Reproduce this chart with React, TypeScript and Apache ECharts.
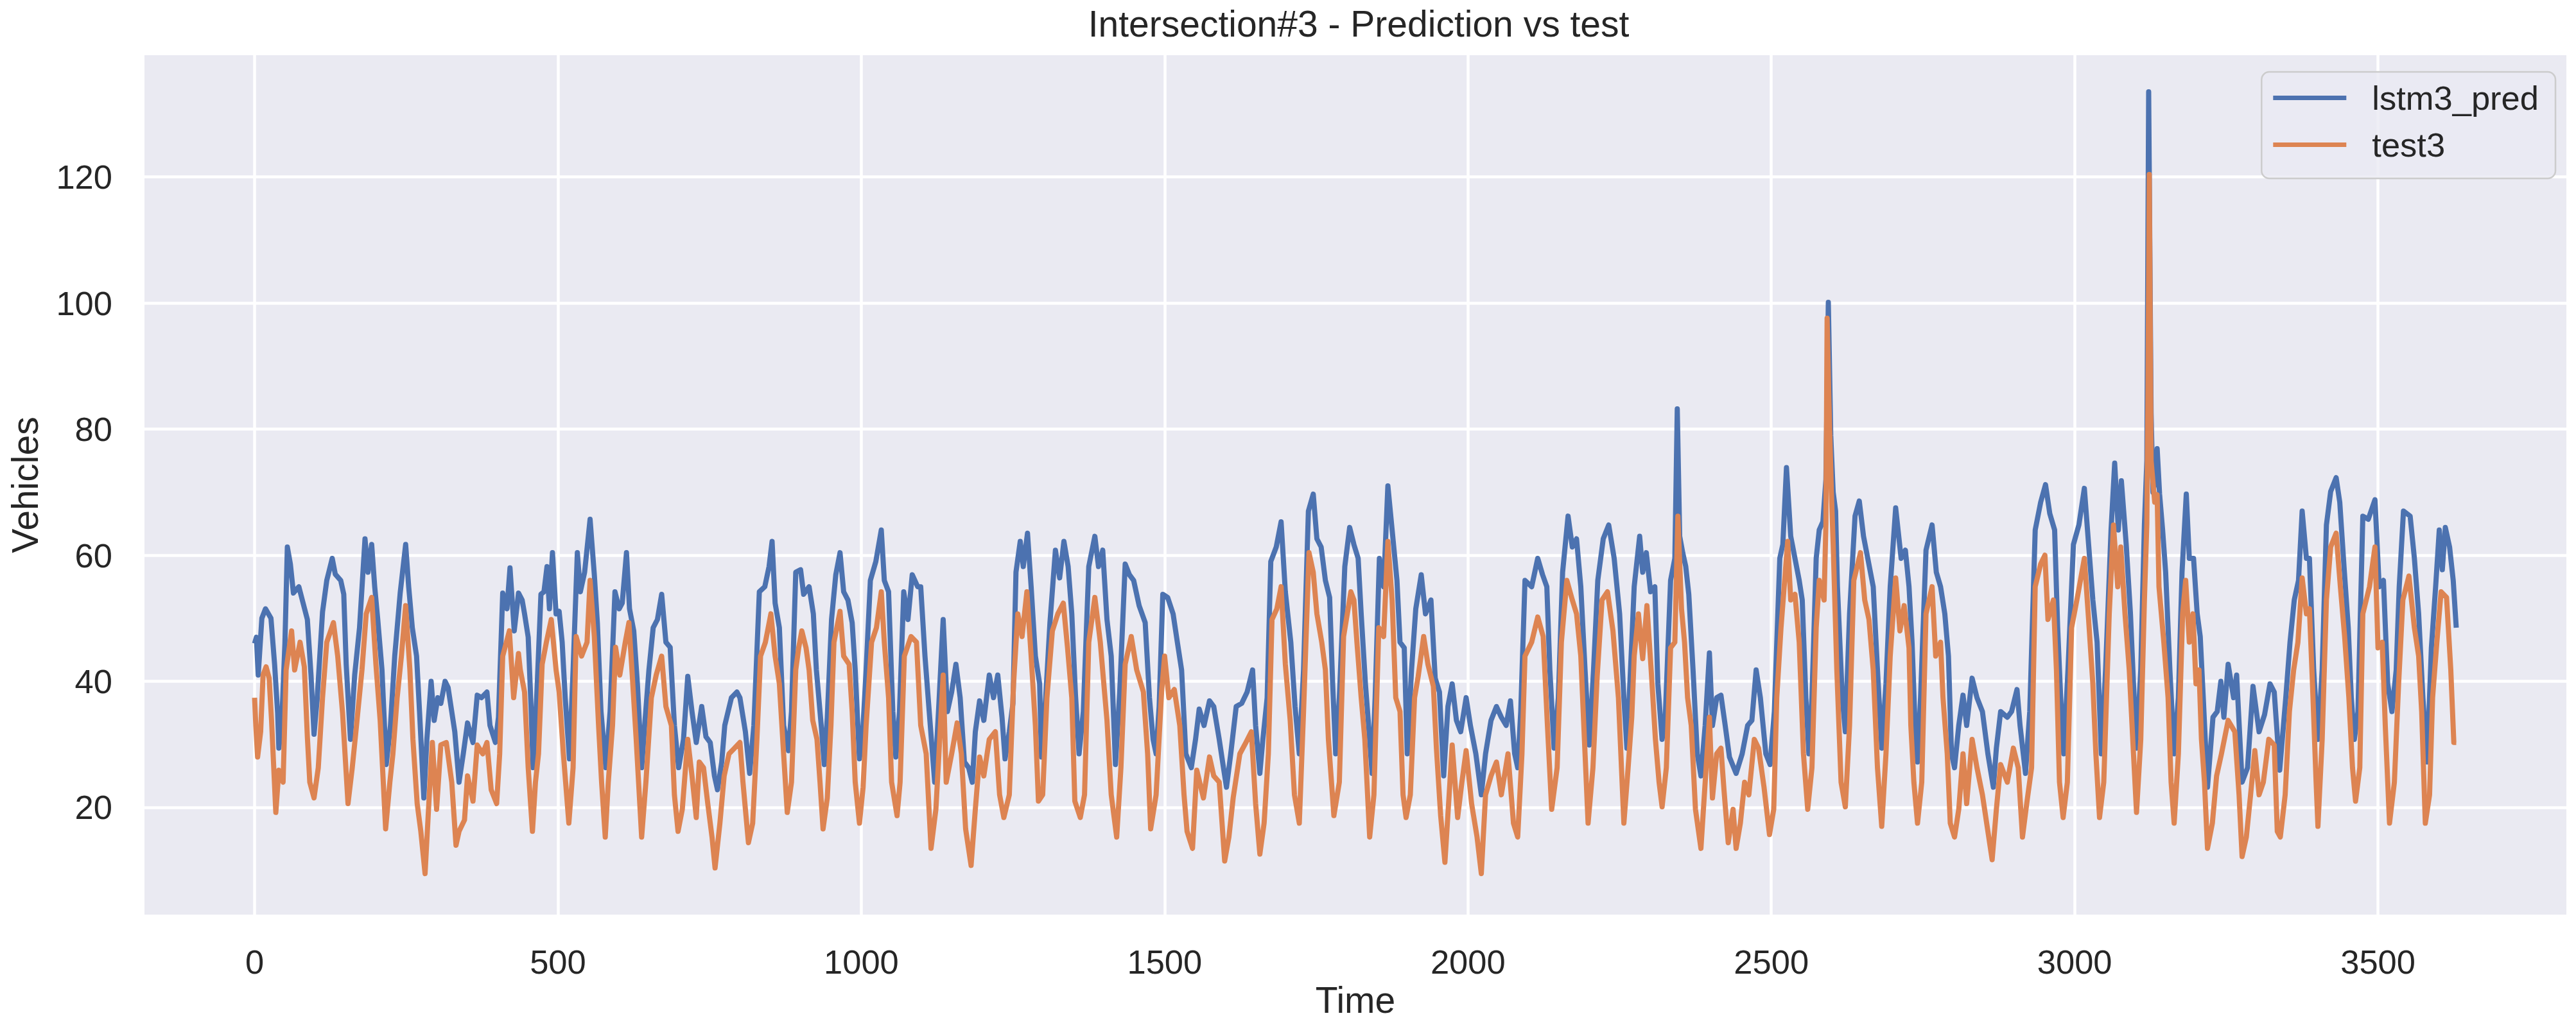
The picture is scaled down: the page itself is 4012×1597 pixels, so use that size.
import React, { useEffect, useRef } from "react";
import * as echarts from "echarts";

const TITLE = "Intersection#3 - Prediction vs test";
const X_NAME = "Time";
const Y_NAME = "Vehicles";
const SERIES_NAMES = ["lstm3_pred", "test3"];
const SERIES_COLORS = ["#4C72B0", "#DD8452"];

// x / y extents (matplotlib 5% margins around the data)
const X_RANGE = [-181.5, 3810.5];
const Y_RANGE = [3.0, 139.3];
const X_STEP = 500;
const Y_STEP = 20;

// lstm3_pred : [time, vehicles]
const lstm3Pred: [number, number][] = [
  [0,46],[3,47],[6,41],[12,50],[18,51.5],[27,50],[33,42.7],[38,35],[40,29.4],[45,34],[50,46],[54,61.3],[59,58.6],[64,54],[73,55],[80,52.4],[87,49.8],[93,41],[98,31.6],[103,37],[112,51],[119,56],[128,59.5],[133,57],[142,56],[147,53.8],[151,42.7],[158,30.8],[165,41],[173,48.5],[182,62.6],[187,57.3],[193,61.7],[198,55],[203,49.8],[210,41.8],[217,26.8],[224,33],[231,44],[240,54],[249,61.7],[254,55],[260,48.5],[267,44],[272,35],[279,21.5],[284,30.8],[291,40],[296,33.8],[302,37.4],[307,36.5],[314,40],[319,39],[330,32],[337,24],[344,28.5],[351,33.4],[360,30.3],[367,37.8],[374,37.4],[383,38.3],[388,33],[397,30.3],[402,34.3],[409,54],[416,51.5],[421,58],[428,48],[435,54],
  [441,52.9],[445,50.7],[451,47],[456,35.2],[459,26.3],[465,37.4],[472,53.8],[477,54.2],[482,58.2],[486,51.5],[491,60.4],[497,50.7],[502,51.1],[507,46.2],[512,37.4],[519,27.7],[525,41.8],[532,60.4],[537,54.2],[544,57.3],[553,65.7],[560,56.9],[565,49.3],[571,35.2],[579,26.3],[586,35.2],[594,54.2],[601,51.5],[606,52.4],[613,60.4],[618,51.5],[625,48],[631,39.6],[638,26.3],[643,33],[650,41.8],[657,48.5],[664,49.8],[671,53.8],[678,46.2],[685,45.4],[692,33],[699,26.3],[707,30.8],[714,40.8],[721,35.2],[728,30.3],[737,36],[744,31.2],[751,30.3],[758,25],[763,22.8],[770,27.2],[775,33],[786,37.4],[795,38.3],[800,37.4],[809,32],[816,25.4],[823,33],[832,54.2],[841,55],[848,58.2],[853,62.2],[858,52.4],[865,48.5],[872,33],[880,29],[885,35.2],[892,57.3],
  [900,57.7],[905,53.8],[914,55],[921,50.7],[926,41.8],[934,33],[939,26.8],[944,34.3],[951,49.8],[958,56.9],[965,60.4],[971,54.2],[978,52.9],[985,49.3],[990,41.8],[997,27.7],[1003,33],[1008,41.8],[1015,56],[1024,59],[1033,64],[1038,56],[1045,54.2],[1052,35.2],[1057,28],[1063,35.2],[1070,54.2],[1077,49.8],[1084,56.9],[1093,55],[1098,55],[1105,44],[1112,35.2],[1121,24],[1128,36.5],[1135,49.8],[1142,35.2],[1149,38.3],[1156,42.7],[1163,37.4],[1170,27.2],[1177,26.3],[1183,24],[1188,32],[1195,36.9],[1202,33.8],[1211,41],[1218,37.4],[1225,41],[1232,34.3],[1237,27.7],[1244,32],[1250,36.5],[1255,57.3],[1262,62.2],[1267,58.2],[1274,63.5],[1280,55],[1287,44],[1294,39.6],[1297,28],[1304,37.4],[1311,49.3],[1320,60.8],[1327,56.4],[1334,62.2],[1341,58.2],[1347,50.7],
  [1353,38],[1359,28.5],[1366,35.2],[1375,58.2],[1385,63],[1391,58.2],[1398,60.8],[1405,49.8],[1412,44],[1419,26.8],[1426,38.3],[1435,58.6],[1442,56.9],[1449,56],[1458,52],[1468,49.3],[1475,37.4],[1481,30.8],[1486,28.5],[1491,36],[1497,53.8],[1505,53.3],[1514,50.7],[1521,46.2],[1528,41.8],[1535,28.5],[1544,26.3],[1551,30.8],[1557,35.6],[1565,33],[1574,36.9],[1581,36],[1590,30.8],[1597,26.3],[1602,23.2],[1609,28.5],[1618,36],[1627,36.5],[1636,38.3],[1645,41.8],[1650,33],[1657,25.4],[1662,30.8],[1669,37.4],[1675,59],[1684,61.3],[1692,65.3],[1699,54.2],[1708,46.2],[1715,36],[1722,28.5],[1729,41.8],[1737,67],[1745,69.7],[1751,62.6],[1758,61.3],[1765,56],[1772,53.3],[1777,39.6],[1782,28.5],[1788,37.4],[1797,58.2],[1805,64.4],
  [1812,61.7],[1819,59.5],[1824,50.7],[1831,39.6],[1838,30.8],[1842,25.4],[1847,37.4],[1854,59.5],[1861,55],[1868,71],[1875,64],[1883,56],[1888,46.2],[1895,45.3],[1900,28.5],[1907,41.8],[1914,51.5],[1923,56.9],[1930,50.7],[1939,52.9],[1946,40.5],[1953,38.3],[1960,25],[1967,36],[1974,39.6],[1981,33.8],[1988,32],[1997,37.4],[2004,33],[2013,28.5],[2022,22],[2029,28.5],[2038,33.8],[2047,36],[2055,34.3],[2063,33],[2070,36.9],[2077,28.5],[2082,26.3],[2087,35.2],[2094,56],[2105,55],[2115,59.5],[2123,56.9],[2130,55],[2135,41.8],[2142,29.4],[2149,37.4],[2156,57.3],[2165,66.2],[2172,61.3],[2179,62.6],[2186,55],[2193,41.8],[2200,29.9],[2207,41.8],[2214,56],[2223,62.6],[2232,64.8],[2241,59.5],[2250,50.7],[2257,37.4],[2262,29.4],[2270,46.2],
  [2274,55],[2283,63],[2288,57.3],[2294,60.4],[2301,54.2],[2308,55],[2313,39.6],[2320,30.8],[2325,33.8],[2334,56],[2341,59.5],[2345,83.2],[2349,63],[2354,60.4],[2359,58.2],[2364,53.8],[2371,41.8],[2378,28.5],[2384,25],[2391,33],[2398,44.5],[2403,33],[2410,37.4],[2417,37.8],[2424,33],[2431,28],[2442,25.4],[2452,28.5],[2461,33],[2468,33.8],[2475,41.8],[2482,37.4],[2491,28.5],[2498,26.8],[2505,35.2],[2514,59.5],[2519,61.7],[2525,73.9],[2532,63],[2539,59.5],[2546,56],[2551,52.9],[2557,37.4],[2562,28.5],[2567,37.4],[2574,59.5],[2579,64],[2585,65.3],[2590,72],[2594,100.1],[2598,79],[2602,70],[2606,67],[2609,55],[2617,37.4],[2622,32],[2629,50.7],[2638,66.2],[2645,68.6],[2652,63],[2659,59.5],[2668,55],[2675,41.8],[2682,29.4],[2689,39.6],[2696,55],[2705,67.5],[2714,59.5],[2721,60.8],
  [2727,55],[2732,46.2],[2737,33],[2741,27.2],[2746,37.4],[2755,60.8],[2765,64.8],[2772,57.3],[2779,55],[2786,50.7],[2792,44],[2797,28.5],[2802,26.3],[2809,33],[2816,37.8],[2822,33],[2831,40.5],[2839,37.4],[2848,35.2],[2857,28.5],[2866,23.2],[2871,29.4],[2878,35.2],[2889,34.3],[2896,35.2],[2905,38.7],[2910,33],[2919,25.4],[2926,35.2],[2935,64],[2944,68.4],[2952,71.2],[2959,66.6],[2967,64],[2972,48.5],[2977,37.4],[2982,28.5],[2989,41.8],[2998,61.7],[3007,64.8],[3016,70.6],[3023,61.7],[3030,52.9],[3037,46.2],[3044,28.5],[3051,41.8],[3060,64],[3066,74.6],[3072,64],[3077,71.8],[3085,61.7],[3092,50.7],[3097,39.6],[3102,29.4],[3109,41.8],[3115,64.8],[3119,75],[3122,133.5],[3126,82.6],[3129,70],[3133,72],[3136,76.9],[3140,69.7],[3145,64],[3150,57.3],[3157,41.8],[3164,28.5],[3171,37.4],[3177,57.3],[3184,69.7],
  [3189,59.5],[3196,59.5],[3202,50.7],[3207,47.1],[3212,37.4],[3219,23.2],[3228,34.3],[3235,35.2],[3241,40],[3246,34.3],[3253,42.7],[3262,37.4],[3267,41],[3276,24],[3285,26.3],[3294,39.2],[3304,32],[3313,34.7],[3322,39.6],[3329,38.3],[3338,25.9],[3348,37.4],[3355,46.2],[3362,52.9],[3369,56],[3375,67],[3382,59.5],[3387,59.5],[3394,41.8],[3401,30.8],[3408,41.8],[3415,64.8],[3422,70.1],[3431,72.3],[3437,68.4],[3444,58.2],[3451,48.5],[3456,37.4],[3461,30.8],[3467,35.2],[3475,66.2],[3484,65.7],[3495,68.8],[3502,55],[3509,56],[3516,39.6],[3523,35.2],[3530,41.8],[3535,55],[3542,67],[3553,66.2],[3560,59.5],[3567,50.7],[3574,37.4],[3581,27.2],[3588,45.3],[3595,55],[3601,64],[3606,57.7],[3611,64.4],[3618,61.3],[3624,56],[3629,48.5],
];

// test3 : [time, vehicles]
const test3: [number, number][] = [
  [0,37.4],[2,33],[5,28],[10,32],[14,41],[19,42.3],[24,40.5],[28,33.8],[35,19.2],[40,25.9],[47,24],[52,41.8],[61,48],[66,41.8],[75,46.2],[82,42.3],[87,31.2],[91,24],[98,21.5],[105,26.3],[112,37.4],[119,46.2],[130,49.3],[137,44],[145,35],[154,20.6],[161,26.3],[168,33],[177,41.8],[184,50.7],[193,53.3],[200,42.7],[207,33.8],[216,16.6],[223,24],[228,28.5],[235,37.4],[242,44],[249,52],[256,41.8],[261,30.8],[268,20.6],[274,16.2],[281,9.5],[288,22],[293,30.3],[300,19.7],[307,29.9],[316,30.3],[325,24],[332,14],[337,16.2],[346,18],[351,25],[360,21],[367,29.9],[376,28.5],[383,30.3],[390,22.8],[399,20.6],[404,28.5],[409,44],[420,48],[427,37.4],[435,44.4],
  [438,41.8],[445,38.3],[451,26.3],[458,16.2],[463,24],[468,28.5],[474,42.7],[481,46.2],[489,49.8],[497,41.8],[502,38.3],[509,28.5],[518,17.5],[525,26.3],[530,47.1],[539,44],[548,46.2],[553,56],[560,47.1],[567,33],[572,24],[578,15.3],[583,24],[590,33],[595,45.4],[602,41],[611,46.2],[617,49.3],[622,41.8],[629,30.8],[638,15.3],[645,24],[654,37.4],[662,41],[671,44],[678,36],[687,33],[692,22],[698,16.2],[705,19.7],[714,30.8],[721,25],[728,18.4],[733,27.2],[740,26.3],[747,20.6],[754,15.3],[759,10.4],[767,17.5],[774,25],[782,28.5],[791,29.4],[800,30.3],[805,24],[814,14.4],[821,17.5],[828,30.8],[834,44],[842,46.2],[851,50.7],[858,44],[865,39.6],[872,28.5],[878,19.2],[885,24],[892,41.8],
  [897,45.4],[902,48],[909,45.3],[914,41.8],[920,33.8],[927,30.8],[932,24],[937,16.6],[944,21.5],[950,33],[955,46.2],[965,51.1],[971,44],[980,42.7],[985,35.2],[990,24],[997,17.5],[1003,23.2],[1008,33],[1017,46.2],[1025,48.5],[1033,54.2],[1038,46.2],[1045,37.4],[1050,24],[1059,18.7],[1064,24],[1071,44],[1082,47.1],[1091,46.2],[1098,33],[1107,28.5],[1115,13.5],[1123,19.7],[1128,28.5],[1135,41],[1140,24],[1149,28.5],[1158,33.4],[1165,28.5],[1172,16.6],[1181,10.8],[1188,19.7],[1195,28],[1202,25],[1211,30.8],[1221,32],[1228,22],[1235,18.4],[1244,22],[1251,39.6],[1258,50.7],[1265,47.1],[1273,54.2],[1280,44],[1287,33],[1292,21],[1299,22],[1306,37.4],[1315,48],[1324,50.7],[1333,52.4],[1340,45.3],[1347,37.4],[1352,21],
  [1361,18.4],[1368,22],[1375,46.2],[1385,53.3],[1394,46.2],[1399,40.5],[1405,33.8],[1412,22],[1421,15.3],[1428,26.3],[1435,42.7],[1445,47.1],[1454,41.8],[1465,38.3],[1472,28.5],[1477,16.6],[1486,22],[1495,38.3],[1500,44],[1507,37.4],[1516,38.7],[1525,33],[1532,22],[1537,16.2],[1546,13.5],[1553,25.9],[1564,21.5],[1574,28],[1581,25],[1590,24],[1599,11.5],[1606,15.3],[1613,21.5],[1624,28.5],[1634,30.3],[1643,32],[1650,20.6],[1657,12.6],[1664,17.5],[1671,28.5],[1677,49.8],[1685,51.5],[1692,55],[1699,42.7],[1707,33.8],[1714,22],[1722,17.5],[1729,35.2],[1738,60.4],[1745,57.3],[1751,50.7],[1759,46.2],[1765,41.8],[1770,30.8],[1779,18.7],[1788,24],[1795,47.1],[1807,54.2],
  [1812,52.9],[1817,46.2],[1824,37.4],[1830,30.8],[1838,15.3],[1845,22],[1853,48.5],[1861,47.1],[1868,62.2],[1875,52.9],[1881,37.4],[1888,35.2],[1893,22],[1898,18.4],[1905,22],[1912,37.4],[1918,40.8],[1927,47.1],[1934,42.7],[1943,39.2],[1948,29.4],[1955,18.7],[1962,11.3],[1969,22],[1974,29.9],[1983,18.4],[1990,24],[1997,29],[2006,20.6],[2015,15.3],[2022,9.5],[2029,22],[2038,25],[2047,27.2],[2055,22],[2066,28.5],[2075,17.5],[2082,15.3],[2089,28.5],[2094,44],[2105,46.2],[2115,50.2],[2124,47.1],[2131,33],[2138,19.7],[2147,26.3],[2154,46.2],[2163,56],[2172,52.9],[2179,50.7],[2186,44],[2193,28.5],[2198,17.5],[2206,26.3],[2213,40.8],[2221,52.9],[2230,54.2],[2239,48],[2248,37.4],[2257,17.5],[2264,26.3],[2270,34.3],
  [2274,44],[2281,50.7],[2288,43.6],[2295,52],[2302,41.8],[2309,30.8],[2315,24],[2320,20.1],[2327,26.3],[2334,45.3],[2341,46.2],[2346,66.2],[2352,51.5],[2357,46.2],[2362,37.4],[2368,33],[2375,19.7],[2384,13.5],[2391,24],[2398,34.3],[2403,21.5],[2410,28.5],[2417,29.4],[2422,22.8],[2429,14.4],[2437,19.7],[2442,13.5],[2449,17.5],[2456,24],[2463,22],[2472,30.8],[2479,29.4],[2488,23.2],[2497,15.7],[2504,19.7],[2509,37.4],[2516,48.5],[2527,62.2],[2532,52.9],[2539,53.8],[2546,46.2],[2553,28.5],[2560,19.7],[2567,26.3],[2574,48.5],[2579,56],[2587,52.9],[2590,65],[2592,97.6],[2595,84.5],[2599,70],[2602,61.7],[2608,41.8],[2615,24],[2622,20.1],[2629,33],[2636,56],[2647,60.4],[2654,52.9],[2661,49.8],[2668,41.8],[2675,26.3],[2682,17],[2689,28.5],[2696,44],[2705,56.4],[2712,48],[2719,52],
  [2727,45.3],[2730,33],[2735,24],[2741,17.5],[2748,24],[2755,50.7],[2765,55],[2771,44],[2779,46.2],[2783,37.4],[2790,28.5],[2795,17.5],[2802,15.3],[2809,19.7],[2816,28.5],[2822,20.6],[2831,30.8],[2839,26.3],[2848,22],[2855,17.5],[2864,11.7],[2871,19.7],[2878,26.8],[2889,24],[2899,29.4],[2907,26.3],[2914,15.3],[2921,20.6],[2929,26.3],[2935,55],[2944,58.6],[2951,60],[2956,49.8],[2965,52.9],[2970,41.8],[2975,24],[2981,18.4],[2988,24],[2995,48.5],[3005,53.6],[3016,59.5],[3023,49.8],[3030,39.6],[3035,28.5],[3041,18.4],[3048,24],[3057,50.7],[3064,64.8],[3071,55],[3076,61.3],[3083,50.7],[3090,41.8],[3097,28.5],[3102,19.2],[3109,30.8],[3115,52.9],[3119,65],[3121,87.5],[3123,120.4],[3126,75],[3132,68.4],[3136,69.6],[3139,55],[3147,46.2],[3154,37.4],[3159,24],[3164,17.5],[3171,28.5],[3178,50.7],[3183,56],
  [3189,46.2],[3195,50.7],[3200,39.6],[3205,41.8],[3209,30.8],[3214,24],[3219,13.5],[3227,17.5],[3234,25],[3242,28.5],[3253,33.8],[3264,32],[3271,22],[3276,12.2],[3283,15.3],[3290,22],[3297,29],[3304,22],[3311,24],[3320,30.8],[3329,29.9],[3334,16.2],[3339,15.3],[3347,22],[3354,35.2],[3361,41.8],[3368,46.2],[3375,56.4],[3382,50.7],[3387,51.5],[3392,39.6],[3398,24],[3401,17],[3408,30.8],[3415,52.9],[3422,61.3],[3431,63.5],[3438,55],[3445,47.1],[3452,37.4],[3458,26.3],[3463,21],[3470,26.3],[3475,50.7],[3486,55],[3495,61.3],[3500,45.3],[3507,46.2],[3512,33],[3519,17.5],[3527,24],[3534,39.6],[3541,52.9],[3551,56.7],[3560,48.5],[3567,44],[3572,35.2],[3578,17.5],[3585,22],[3590,37.4],[3597,46.2],[3604,54.2],[3613,53.3],[3620,41.8],[3625,30.3],[3629,30.3],
];

const FONT = "'Liberation Sans', Arial, Helvetica, sans-serif";
const TEXT = "#262626";

export default function App() {
  const ref = useRef<HTMLDivElement>(null);

  useEffect(() => {
    if (!ref.current) return;
    const chart = echarts.init(ref.current, undefined, { renderer: "svg" });
    const axisCommon = {
      type: "value" as const,
      axisLine: { show: false },
      axisTick: { show: false },
      axisLabel: {
        color: TEXT,
        fontSize: 52.5,
        fontFamily: FONT,
        showMinLabel: false,
        showMaxLabel: false,
        formatter: (v: number) => String(v),
      },
      splitLine: {
        show: true,
        showMinLine: false,
        showMaxLine: false,
        lineStyle: { color: "#ffffff", width: 4.5 },
      },
      nameLocation: "middle" as const,
      nameTextStyle: { color: TEXT, fontSize: 57, fontFamily: FONT },
    };
    chart.setOption({
      animation: false,
      backgroundColor: "#ffffff",
      textStyle: { fontFamily: FONT },
      title: {
        text: TITLE,
        left: 2111,
        textAlign: "center",
        top: 3,
        textStyle: { color: TEXT, fontSize: 57, fontWeight: "normal", fontFamily: FONT },
      },
      grid: {
        left: 225,
        right: 15,
        top: 86,
        bottom: 172,
        show: true,
        backgroundColor: "#EAEAF2",
        borderWidth: 0,
        containLabel: false,
      },
      legend: {
        orient: "vertical",
        right: 32,
        top: 112,
        data: SERIES_NAMES,
        icon: "rect",
        itemWidth: 114,
        itemHeight: 7,
        itemGap: 20,
        padding: [14, 26, 26, 18],
        backgroundColor: "rgba(234,234,242,0.8)",
        borderColor: "#cccccc",
        borderWidth: 2.5,
        borderRadius: 12,
        textStyle: {
          color: TEXT,
          fontSize: 52.5,
          fontFamily: FONT,
          padding: [0, 0, 0, 35],
        },
      },
      xAxis: {
        ...axisCommon,
        min: X_RANGE[0],
        max: X_RANGE[1],
        minInterval: X_STEP,
        maxInterval: X_STEP,
        axisLabel: { ...axisCommon.axisLabel, margin: 47 },
        name: X_NAME,
        nameGap: 101,
      },
      yAxis: {
        ...axisCommon,
        min: Y_RANGE[0],
        max: Y_RANGE[1],
        minInterval: Y_STEP,
        maxInterval: Y_STEP,
        axisLabel: { ...axisCommon.axisLabel, margin: 50 },
        name: Y_NAME,
        nameGap: 158,
      },
      series: [
        {
          name: SERIES_NAMES[0],
          type: "line",
          data: lstm3Pred,
          color: SERIES_COLORS[0],
          showSymbol: false,
          symbol: "none",
          lineStyle: { width: 8, color: SERIES_COLORS[0], join: "round" },
          z: 2,
        },
        {
          name: SERIES_NAMES[1],
          type: "line",
          data: test3,
          color: SERIES_COLORS[1],
          showSymbol: false,
          symbol: "none",
          lineStyle: { width: 8, color: SERIES_COLORS[1], join: "round" },
          z: 3,
        },
      ],
    });
    return () => chart.dispose();
  }, []);

  return (
    <div
      ref={ref}
      style={{ position: "absolute", left: 0, top: 0, width: 4012, height: 1597 }}
    />
  );
}
